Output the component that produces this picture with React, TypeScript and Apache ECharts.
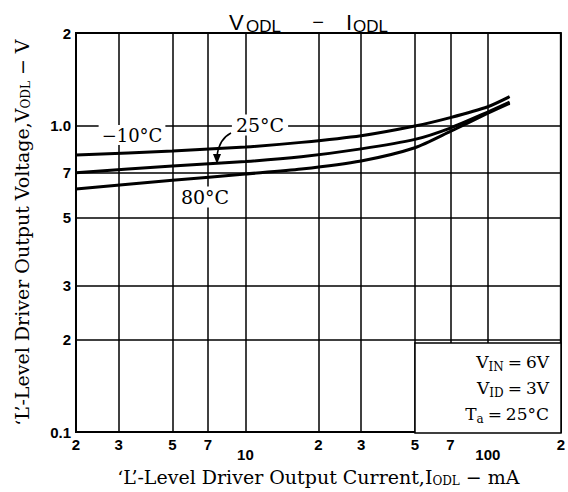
import React, { useEffect, useRef } from 'react';
import * as echarts from 'echarts';

// Output current I_ODL (mA)
const currentMA = [2, 5, 10, 17, 30, 50, 70, 100, 123];
// Output voltage V_ODL (V) per ambient temperature
const vMinus10C = [0.80, 0.825, 0.85, 0.88, 0.925, 0.995, 1.06, 1.15, 1.24];
const v25C = [0.70, 0.737, 0.762, 0.79, 0.838, 0.90, 0.98, 1.105, 1.19];
const v80C = [0.62, 0.662, 0.694, 0.72, 0.765, 0.845, 0.955, 1.095, 1.18];

const xTicks = [2, 3, 5, 7, 10, 20, 30, 50, 70, 100, 200];
const xTickLabels = ['2', '3', '5', '7', '10', '2', '3', '5', '7', '100', '2'];
const yTicks = [0.1, 0.2, 0.3, 0.5, 0.7, 1, 2];
const yTickLabels = ['0.1', '2', '3', '5', '7', '1.0', '2'];

const L = Math.log10;
const serif = '"DejaVu Serif", "Liberation Serif", serif';
const sans = '"Liberation Sans", Arial, sans-serif';

function findLabel(v: number, ticks: number[], labels: string[]) {
  for (let i = 0; i < ticks.length; i++) {
    if (Math.abs(L(ticks[i]) - v) < 1e-6) return labels[i];
  }
  return '';
}

export default function App() {
  const ref = useRef<HTMLDivElement>(null);
  useEffect(() => {
    const chart = echarts.init(ref.current!, null, { renderer: 'svg' });
    const mk = (ys: number[]) => currentMA.map((x, i) => [L(x), L(ys[i])]);
    const line = (name: string, ys: number[]) => ({
      type: 'line',
      name,
      data: mk(ys),
      smooth: 0.25,
      showSymbol: false,
      lineStyle: { color: '#000', width: 3 },
      z: 5,
    });
    const tickFont = { fontFamily: sans, fontWeight: 'bold' as const, fontSize: 15, color: '#000' };
    const sub = { fontFamily: serif, fontSize: 12, color: '#000', padding: [9, 0, 0, 0] };
    const txt = (text: string, x: number, y: number, size: number, family: string, extra: any = {}) => ({
      type: 'text', x, y, z: 100,
      style: { text, fontFamily: family, fontSize: size, fill: '#000', verticalAlign: 'middle', align: 'left', ...extra },
    });
    chart.setOption({
      animation: false,
      backgroundColor: '#fff',
      grid: {
        left: 76, top: 33, width: 485, height: 400,
        show: true, borderColor: '#000', borderWidth: 2, backgroundColor: 'transparent',
      },
      xAxis: {
        type: 'value',
        min: L(2),
        max: L(200),
        axisLine: { show: false },
        axisTick: { show: false, customValues: xTicks.map(L) },
        axisLabel: {
          customValues: xTicks.map(L),
          margin: 5,
          formatter: (v: number) => {
            const s = findLabel(v, xTicks, xTickLabels);
            return s === '10' || s === '100' ? `{lo|${s}}` : `{n|${s}}`;
          },
          rich: {
            n: { ...tickFont },
            lo: { ...tickFont, padding: [10, 0, 0, 0] },
          },
        },
        splitLine: { show: true, lineStyle: { color: '#000', width: 1.5 } },
        name: '‘L’-Level Driver Output Current,I{s|ODL} − mA',
        nameLocation: 'middle',
        nameGap: 32,
        nameTextStyle: { fontFamily: serif, fontSize: 19, color: '#000', rich: { s: sub } },
      },
      yAxis: {
        type: 'value',
        min: L(0.1),
        max: L(2),
        axisLine: { show: false },
        axisTick: { show: false, customValues: yTicks.map(L) },
        axisLabel: {
          customValues: yTicks.map(L),
          margin: 5,
          ...tickFont,
          formatter: (v: number) => findLabel(v, yTicks, yTickLabels),
        },
        splitLine: { show: true, lineStyle: { color: '#000', width: 1.5 } },
        name: '‘L’-Level Driver Output Voltage,V{s|ODL} − V',
        nameLocation: 'middle',
        nameGap: 44,
        nameRotate: 90,
        nameTextStyle: { fontFamily: serif, fontSize: 19, color: '#000', rich: { s: sub } },
      },
      series: [line('-10°C', vMinus10C), line('25°C', v25C), line('80°C', v80C)],
      graphic: [
        txt('V', 229, 22, 22, sans),
        txt('ODL', 246, 26, 17, sans),
        txt('−', 318, 22, 20, sans, { align: 'center' }),
        txt('I', 346, 22, 22, sans),
        txt('ODL', 353, 26, 17, sans),
        {
          type: 'text', x: 132, y: 135, z: 100,
          style: {
            text: '−10°C', align: 'center', verticalAlign: 'middle',
            fontFamily: serif, fontSize: 18, fill: '#000', backgroundColor: '#fff', padding: [1, 3],
          },
        },
        {
          type: 'text', x: 260, y: 125, z: 100,
          style: {
            text: '25°C', align: 'center', verticalAlign: 'middle',
            fontFamily: serif, fontSize: 19, fill: '#000', backgroundColor: '#fff', padding: [1, 4],
          },
        },
        {
          type: 'text', x: 205, y: 197, z: 100,
          style: {
            text: '80°C', align: 'center', verticalAlign: 'middle',
            fontFamily: serif, fontSize: 19, fill: '#000', backgroundColor: '#fff', padding: [1, 3],
          },
        },
        {
          type: 'bezierCurve', z: 100,
          shape: { x1: 231, y1: 133, x2: 217, y2: 156, cpx1: 219, cpy1: 139 },
          style: { stroke: '#000', lineWidth: 1.5, fill: 'none' },
        },
        {
          type: 'polygon', z: 100,
          shape: { points: [[213, 154], [221, 154], [217, 164]] },
          style: { fill: '#000' },
        },
        {
          type: 'rect', z: 90,
          shape: { x: 415, y: 343, width: 146, height: 90 },
          style: { fill: '#fff', stroke: '#000', lineWidth: 1.5 },
        },
        ...[
          { t: 'V{s|IN}{e|=}6V', y: 362 },
          { t: 'V{s|ID}{e|=}3V', y: 388 },
          { t: 'T{s|a}{e|=}25°C', y: 414 },
        ].map((o) => ({
          type: 'text', x: 549, y: o.y, z: 100,
          style: {
            text: o.t, align: 'right', verticalAlign: 'middle',
            rich: {
              s: { fontFamily: serif, fontSize: 12, fill: '#000', padding: [9, 0, 0, 0] },
              e: { fontFamily: serif, fontSize: 17, fill: '#000', padding: [0, 4] },
            },
            fontFamily: serif, fontSize: 17, fill: '#000',
          },
        })),
      ],
    });
    return () => chart.dispose();
  }, []);
  return <div ref={ref} style={{ position: 'absolute', left: 0, top: 0, width: 568, height: 492 }} />;
}
